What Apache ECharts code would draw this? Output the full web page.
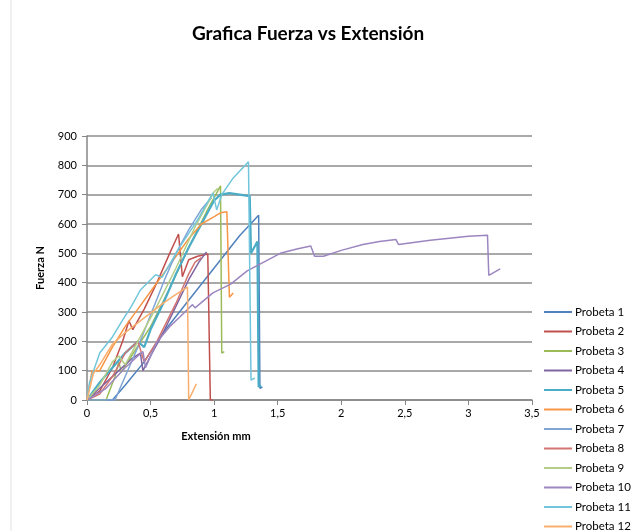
<!DOCTYPE html>
<html><head><meta charset="utf-8">
<script src="https://cdn.jsdelivr.net/npm/echarts@6/dist/echarts.min.js"></script>
<style>html,body{margin:0;padding:0;background:#fff}#c{width:637px;height:531px}</style>
</head><body><div id="c"></div>
<script>
const seriesNames = ["Probeta 1","Probeta 2","Probeta 3","Probeta 4","Probeta 5","Probeta 6","Probeta 7","Probeta 8","Probeta 9","Probeta 10","Probeta 11","Probeta 12"];
const xTicks = {min:0, max:3.5, interval:0.5};
const yTicks = {min:0, max:900, interval:100};

const probeta1 = [[0,0],[0.2,0],[0.3,50],[0.45,130],[0.6,230],[0.8,340],[1.0,450],[1.2,560],[1.35,630],[1.36,40],[1.38,45]];
const probeta2 = [[0,0],[0.1,30],[0.2,110],[0.28,200],[0.33,270],[0.36,240],[0.45,310],[0.55,400],[0.65,500],[0.72,566],[0.75,420],[0.8,478],[0.87,490],[0.95,498],[0.97,0],[0.99,0]];
const probeta3 = [[0,0],[0.15,0],[0.22,80],[0.25,130],[0.27,95],[0.35,150],[0.5,250],[0.65,380],[0.8,520],[0.95,650],[1.05,730],[1.06,160],[1.08,165]];
const probeta4 = [[0,0],[0.1,40],[0.25,100],[0.35,140],[0.42,160],[0.44,100],[0.5,150],[0.6,230],[0.7,320],[0.8,410],[0.88,470],[0.94,505]];
const probeta5 = [[0,0],[0.1,60],[0.2,110],[0.3,160],[0.4,200],[0.45,180],[0.5,240],[0.6,330],[0.7,430],[0.8,520],[0.9,600],[1.0,680],[1.05,700],[1.12,705],[1.2,700],[1.28,695],[1.29,500],[1.34,540],[1.35,45],[1.37,50]];
const probeta6 = [[0,0],[0.04,100],[0.1,100],[0.2,180],[0.3,250],[0.4,310],[0.5,370],[0.6,430],[0.7,490],[0.8,550],[0.9,600],[1.0,625],[1.05,638],[1.1,642],[1.12,350],[1.15,365]];
const probeta7 = [[0,0],[0.22,0],[0.3,80],[0.4,180],[0.5,290],[0.61,410],[0.7,500],[0.8,580],[0.9,650],[0.98,690]];
const probeta8 = [[0,0],[0.1,20],[0.2,80],[0.3,160],[0.4,200],[0.45,130],[0.55,200],[0.7,330],[0.75,380],[0.8,430],[0.85,470],[0.9,485]];
const probeta9 = [[0,0],[0.1,50],[0.2,130],[0.25,150],[0.3,120],[0.4,200],[0.55,320],[0.7,450],[0.85,590],[1.0,710],[1.03,722]];
const probeta10 = [[0,0],[0.15,40],[0.3,110],[0.4,150],[0.44,165],[0.46,110],[0.55,198],[0.65,250],[0.73,283],[0.81,317],[0.83,325],[0.85,314],[0.99,365],[1.13,395],[1.26,440],[1.39,470],[1.52,500],[1.65,515],[1.76,525],[1.79,490],[1.86,490],[2.0,510],[2.17,530],[2.3,540],[2.43,547],[2.45,530],[2.7,545],[3.0,558],[3.15,562],[3.16,425],[3.25,447]];
const probeta11 = [[0,0],[0.02,60],[0.1,160],[0.2,215],[0.28,272],[0.35,320],[0.42,375],[0.54,427],[0.59,418],[0.66,470],[0.73,522],[0.87,614],[0.99,706],[1.02,648],[1.06,700],[1.15,757],[1.27,812],[1.29,68],[1.32,75]];
const probeta12 = [[0,0],[0.05,90],[0.1,120],[0.2,190],[0.3,230],[0.45,280],[0.6,330],[0.7,360],[0.79,385],[0.8,0],[0.86,55]];

const allData = [probeta1,probeta2,probeta3,probeta4,probeta5,probeta6,probeta7,probeta8,probeta9,probeta10,probeta11,probeta12];
const colors = ['#4F81BD','#C0504D','#9BBB59','#8064A2','#4BACC6','#F79646','#7FA4D6','#D27472','#B4CD85','#9C86C0','#72C6DC','#F9AE6E'];
const widths = [1.5,1.5,1.5,1.5,2.2,1.5,1.5,1.5,1.5,1.5,1.5,1.5];

const chart = echarts.init(document.getElementById('c'), null, {renderer:'canvas'});
const font = 'Lato, "Open Sans", sans-serif';
const legendBase = {orient:'vertical', left:539, itemWidth:28, itemHeight:14, itemGap:7.5,
    icon:'path://M0,0 L28,0 L28,2 L0,2 Z', symbolKeepAspect:true,
    textStyle:{fontFamily:font, fontSize:11.5, color:'#000', padding:[0,0,0,-2]}};
chart.setOption({
  animation:false,
  color: colors,
  title:{text:'Grafica Fuerza vs Extensión', left:303, top:19, textAlign:'center',
    textStyle:{fontFamily:font, fontWeight:'bold', fontSize:19, color:'#000'}},
  grid:{left:87, top:136, width:445, height:264, containLabel:false},
  legend:[
    Object.assign({}, legendBase, {top:301, data:seriesNames.slice(0,11)}),
    Object.assign({}, legendBase, {top:301+11*19.5, data:seriesNames.slice(11)})
  ],
  xAxis:{type:'value', min:xTicks.min, max:xTicks.max, interval:xTicks.interval,
    name:'', axisLine:{lineStyle:{color:'#868686', width:1.5}},
    axisTick:{show:true, length:5, lineStyle:{color:'#868686'}},
    splitLine:{show:false},
    axisLabel:{fontFamily:font, fontSize:11, color:'#000', margin:8,
      formatter:v=>String(v).replace('.',',')}},
  yAxis:{type:'value', min:yTicks.min, max:yTicks.max, interval:yTicks.interval,
    name:'Fuerza N', nameLocation:'middle', nameGap:41, nameRotate:90,
    nameTextStyle:{fontFamily:font, fontWeight:'bold', fontSize:11, color:'#000'},
    axisLine:{show:true, lineStyle:{color:'#868686', width:1.5}},
    axisTick:{show:true, length:5, lineStyle:{color:'#868686'}},
    splitLine:{show:true, lineStyle:{color:'#8c8c8c', width:1.5}},
    axisLabel:{fontFamily:font, fontSize:11, color:'#000', margin:10}},
  graphic:[
    {type:'line', shape:{x1:11, y1:0, x2:11, y2:531}, style:{stroke:'#e2e2e2', lineWidth:1}},
    {type:'text', style:{text:'Extensión mm', x:216, y:436, textAlign:'center', textVerticalAlign:'middle', font:'bold 11px Lato, sans-serif', fill:'#000'}}
  ],
  series: allData.map((d,i)=>({
    name: seriesNames[i], type:'line', data:d, showSymbol:false, symbol:'none',
    lineStyle:{width:widths[i], color:colors[i]}, itemStyle:{color:colors[i]},
    z: 2
  }))
});
</script></body></html>
